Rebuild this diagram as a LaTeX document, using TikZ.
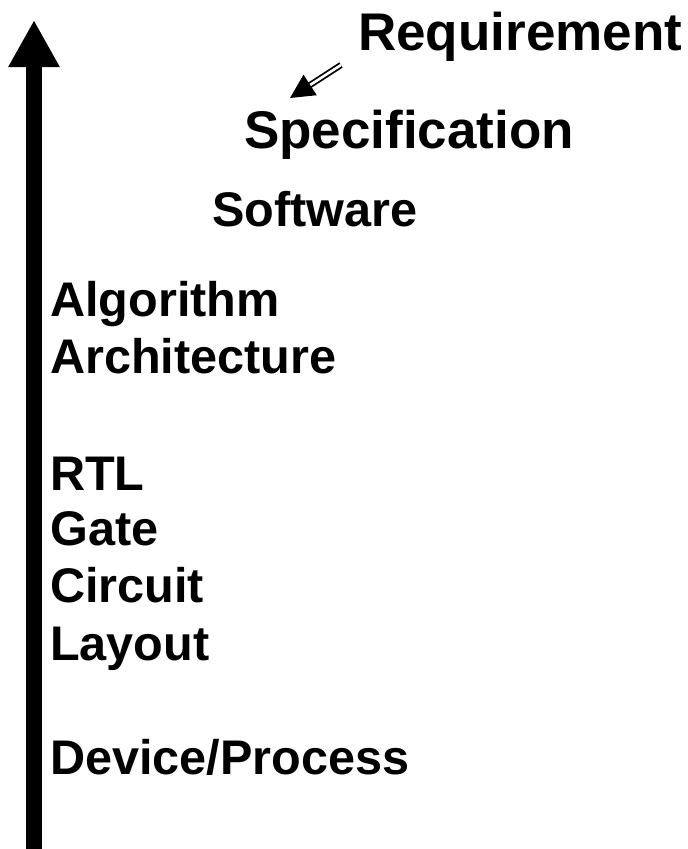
\documentclass[tikz,border=0pt]{standalone}
\usepackage{fontspec}
\setmainfont{Liberation Sans}
\usetikzlibrary{arrows.meta}
\tikzset{
  big/.style={anchor=base west, inner sep=0pt, font=\bfseries\fontsize{53}{61}\selectfont},
  lvl/.style={anchor=base west, inner sep=0pt, font=\bfseries\fontsize{48.6}{57}\selectfont},
  axis/.style={line width=16pt, -{Triangle[length=47pt,width=48pt]}},
  refine/.style={double, double distance=2.6pt, line width=1.8pt, -{Triangle[length=24pt,width=24pt]}}
}
\begin{document}
\begin{tikzpicture}[x=1pt,y=-1pt]
\useasboundingbox[fill=white] (0,0) rectangle (688,849);
\coordinate (abot) at (34,855);
\coordinate (atop) at (34,20);
\draw[axis] (abot) -- (atop);
\node[big] (req) at (358,50) {Requirement};
\node[big] (spec) at (244,148) {Specification};
\node[lvl] (sw) at (212,226) {Software};
\node[lvl] (alg) at (50,316) {Algorithm};
\node[lvl] (arch) at (50,373) {Architecture};
\node[lvl] (rtl) at (50,490) {RTL};
\node[lvl] (gate) at (50,545) {Gate};
\node[lvl] (circ) at (50,602) {Circuit};
\node[lvl] (lay) at (50,660) {Layout};
\node[lvl] (dev) at (50,774) {Device/Process};
\coordinate (s1) at (341,65);
\coordinate (s2) at (290,98);
\draw[refine] (s1) -- (s2);
\end{tikzpicture}
\end{document}
